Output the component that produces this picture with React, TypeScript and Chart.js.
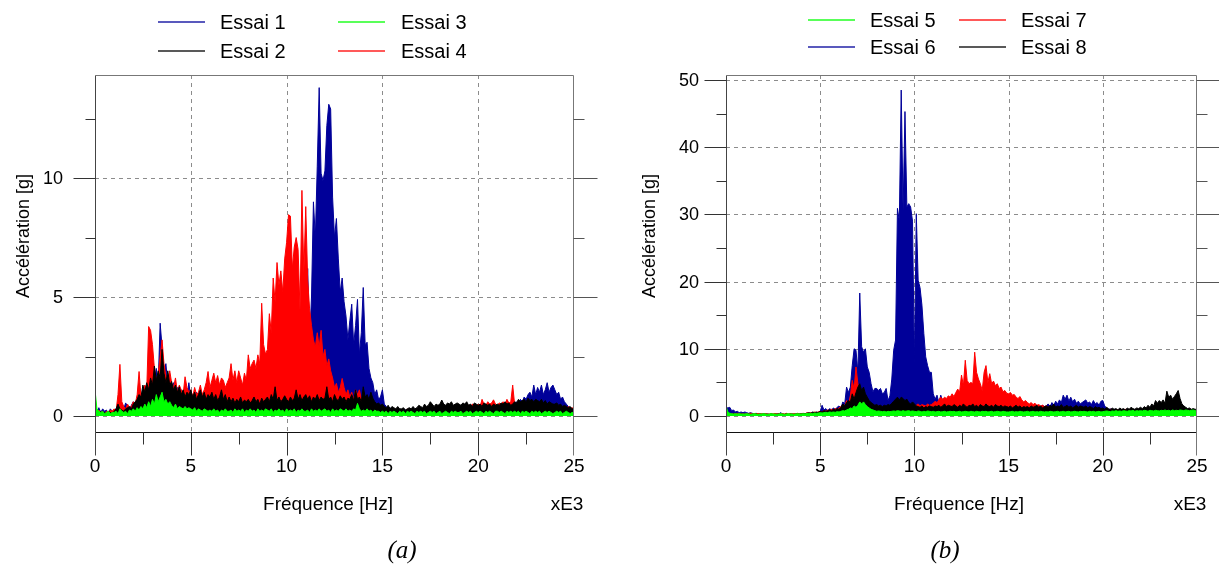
import React, { useEffect, useRef } from "react";
import { Chart, registerables } from "chart.js";

Chart.register(...registerables);

// ---------- axes / ticks ----------
const FREQ_STEP_KHZ = 0.1; // spectrum bin width (kHz)
const X_MAJOR = [0, 5, 10, 15, 20, 25];
const X_MAJOR_LABELS = ["0", "5", "10", "15", "20", "25"];
const X_MINOR = [2.5, 7.5, 12.5, 17.5, 22.5];
const X_GRID = [5, 10, 15, 20];

const Y_MAJOR_A = [0, 5, 10];
const Y_LABELS_A = ["0", "5", "10"];
const Y_MINOR_A = [2.5, 7.5, 12.5];

const Y_MAJOR_B = [0, 10, 20, 30, 40, 50];
const Y_LABELS_B = ["0", "10", "20", "30", "40", "50"];
const Y_MINOR_B = [5, 15, 25, 35, 45];

// ---------- panel (a) ----------
const essai1 = [
  0.3, 0.2, 0.35, 0.15, 0.3, 0.2, 0.25, 0.1, 0.3, 0.2,
  0.25, 0.3, 0.2, 0.35, 0.5, 0.3, 0.55, 0.4, 0.3, 0.45,
  0.6, 0.4, 0.7, 0.5, 0.9, 0.6, 1.2, 0.8, 1.5, 1.0,
  1.6, 1.1, 2.0, 1.4, 3.9, 2.9, 1.8, 2.2, 1.3, 1.6,
  1.0, 1.4, 0.9, 1.2, 0.8, 1.1, 0.7, 1.0, 0.8, 1.4,
  0.7, 0.9, 0.6, 1.0, 0.7, 0.8, 0.5, 0.9, 0.6, 0.8,
  0.5, 0.8, 0.6, 0.9, 0.5, 0.7, 0.6, 0.8, 0.5, 0.7,
  0.6, 0.9, 0.5, 0.8, 0.6, 0.9, 0.7, 1.0, 0.6, 0.8,
  0.7, 1.0, 0.6, 0.9, 0.8, 1.1, 0.7, 1.0, 0.9, 1.2,
  1.0, 1.3, 0.9, 1.6, 1.2, 1.8, 1.1, 1.5, 1.3, 2.0,
  1.5, 2.2, 1.3, 1.8, 1.0, 2.5, 1.6, 3.0, 2.0, 4.0,
  3.2, 6.2, 3.1, 5.0, 9.0, 7.5, 10.5, 13.8, 10.2, 9.9,
  10.3, 12.2, 13.1, 12.9, 9.2, 7.5, 8.3, 6.6, 5.2, 5.8,
  4.8, 4.2, 3.2, 4.0, 4.7, 3.0, 3.8, 4.9, 2.6, 3.5,
  5.4, 3.0, 3.1, 2.0, 1.6, 1.4, 0.9, 1.1, 0.7, 0.8,
  1.1, 0.5, 0.4, 0.3, 0.35, 0.25, 0.3, 0.2, 0.3, 0.25,
  0.2, 0.3, 0.25, 0.2, 0.3, 0.25, 0.35, 0.2, 0.3, 0.25,
  0.3, 0.2, 0.35, 0.25, 0.3, 0.4, 0.3, 0.25, 0.35, 0.3,
  0.3, 0.4, 0.3, 0.35, 0.25, 0.4, 0.3, 0.35, 0.3, 0.4,
  0.35, 0.3, 0.4, 0.3, 0.35, 0.45, 0.3, 0.4, 0.35, 0.3,
  0.4, 0.3, 0.45, 0.35, 0.4, 0.3, 0.45, 0.35, 0.4, 0.5,
  0.4, 0.5, 0.35, 0.45, 0.4, 0.5, 0.45, 0.4, 0.55, 0.5,
  0.6, 0.5, 0.7, 0.6, 0.8, 0.7, 0.9, 1.0, 0.8, 1.3,
  0.9, 1.2, 1.0, 1.3, 0.9, 1.1, 1.4, 1.0, 1.2, 1.3,
  1.1, 0.9, 1.0, 0.7, 0.8, 0.6, 0.5, 0.4, 0.35, 0.3,
  0.3,
];

const essai2 = [
  0.1, 0.15, 0.1, 0.2, 0.1, 0.15, 0.1, 0.2, 0.15, 0.1,
  0.2, 0.3, 0.5, 0.3, 0.25, 0.2, 0.3, 0.35, 0.4, 0.3,
  0.5, 0.6, 0.7, 0.9, 0.8, 1.3, 1.0, 1.4, 1.1, 1.6,
  1.3, 2.1, 1.5, 1.9, 1.6, 2.8, 1.8, 1.4, 1.9, 1.3,
  1.45, 1.1, 1.3, 1.0, 1.23, 0.9, 1.1, 0.8, 1.0, 0.9,
  1.1, 0.8, 1.0, 0.7, 0.9, 1.1, 0.8, 1.0, 0.7, 0.9,
  0.8, 1.0, 0.7, 0.9, 0.65, 0.8, 1.1, 0.7, 0.9, 0.6,
  0.8, 0.6, 0.75, 0.55, 0.7, 0.6, 0.8, 0.55, 0.67, 0.6,
  0.7, 0.55, 0.65, 0.8, 0.6, 0.7, 0.5, 0.75, 0.6, 0.7,
  0.8, 0.6, 0.9, 0.7, 1.23, 0.65, 0.8, 0.6, 0.7, 0.85,
  0.7, 0.6, 0.8, 0.65, 0.75, 1.1, 0.7, 0.9, 0.65, 0.8,
  0.9, 0.7, 0.85, 0.6, 0.8, 0.7, 0.9, 0.65, 0.8, 0.7,
  0.75, 1.23, 0.7, 0.8, 0.6, 0.9, 0.7, 0.65, 0.85, 0.7,
  0.8, 0.6, 0.75, 0.7, 0.9, 0.65, 1.1, 0.7, 0.8, 0.6,
  1.23, 0.8, 0.9, 0.7, 1.0, 0.75, 0.6, 0.5, 0.55, 0.45,
  0.5, 0.4, 0.35, 0.45, 0.3, 0.4, 0.35, 0.3, 0.4, 0.3,
  0.3, 0.35, 0.25, 0.3, 0.35, 0.3, 0.4, 0.3, 0.35, 0.45,
  0.4, 0.35, 0.5, 0.4, 0.45, 0.6, 0.5, 0.4, 0.5, 0.45,
  0.5, 0.67, 0.5, 0.45, 0.55, 0.5, 0.6, 0.45, 0.5, 0.55,
  0.5, 0.45, 0.55, 0.5, 0.6, 0.45, 0.5, 0.4, 0.55, 0.5,
  0.45, 0.5, 0.4, 0.55, 0.5, 0.45, 0.5, 0.4, 0.5, 0.45,
  0.5, 0.45, 0.55, 0.5, 0.6, 0.5, 0.55, 0.45, 0.5, 0.6,
  0.55, 0.7, 0.6, 0.65, 0.7, 0.6, 0.75, 0.65, 0.7, 0.6,
  0.7, 0.65, 0.6, 0.7, 0.55, 0.65, 0.5, 0.6, 0.55, 0.5,
  0.5, 0.55, 0.45, 0.5, 0.4, 0.45, 0.4, 0.35, 0.4, 0.3,
  0.3,
];

const essai3 = [
  1.1, 0.3, 0.2, 0.15, 0.2, 0.1, 0.15, 0.2, 0.1, 0.15,
  0.15, 0.2, 0.1, 0.3, 0.2, 0.15, 0.2, 0.1, 0.25, 0.2,
  0.3, 0.2, 0.35, 0.25, 0.4, 0.3, 0.5, 0.35, 0.6, 0.4,
  0.7, 0.5, 0.9, 0.6, 0.8, 1.0, 0.6, 0.7, 0.5, 0.6,
  0.45, 0.35, 0.5, 0.3, 0.4, 0.35, 0.3, 0.4, 0.3, 0.35,
  0.3, 0.25, 0.35, 0.2, 0.3, 0.25, 0.2, 0.3, 0.25, 0.2,
  0.25, 0.2, 0.3, 0.2, 0.25, 0.15, 0.25, 0.2, 0.3, 0.2,
  0.2, 0.25, 0.15, 0.3, 0.2, 0.25, 0.2, 0.3, 0.15, 0.25,
  0.2, 0.3, 0.2, 0.25, 0.15, 0.3, 0.2, 0.25, 0.2, 0.3,
  0.25, 0.2, 0.3, 0.15, 0.25, 0.2, 0.3, 0.2, 0.25, 0.15,
  0.3, 0.2, 0.25, 0.2, 0.3, 0.15, 0.25, 0.2, 0.3, 0.2,
  0.2, 0.25, 0.15, 0.3, 0.2, 0.25, 0.2, 0.3, 0.2, 0.25,
  0.3, 0.2, 0.25, 0.15, 0.3, 0.2, 0.25, 0.2, 0.3, 0.25,
  0.2, 0.3, 0.2, 0.25, 0.2, 0.3, 0.25, 0.53, 0.3, 0.2,
  0.25, 0.2, 0.3, 0.2, 0.25, 0.15, 0.25, 0.2, 0.2, 0.15,
  0.2, 0.15, 0.2, 0.1, 0.2, 0.15, 0.2, 0.15, 0.1, 0.2,
  0.15, 0.2, 0.1, 0.2, 0.15, 0.2, 0.15, 0.1, 0.2, 0.15,
  0.2, 0.15, 0.2, 0.1, 0.15, 0.2, 0.15, 0.2, 0.1, 0.15,
  0.2, 0.1, 0.15, 0.2, 0.15, 0.1, 0.2, 0.15, 0.2, 0.15,
  0.15, 0.2, 0.1, 0.15, 0.2, 0.15, 0.2, 0.1, 0.15, 0.2,
  0.15, 0.2, 0.15, 0.1, 0.2, 0.15, 0.2, 0.15, 0.1, 0.2,
  0.2, 0.15, 0.2, 0.15, 0.1, 0.2, 0.15, 0.2, 0.15, 0.2,
  0.15, 0.2, 0.1, 0.2, 0.15, 0.2, 0.15, 0.1, 0.2, 0.15,
  0.2, 0.15, 0.2, 0.1, 0.15, 0.2, 0.15, 0.2, 0.15, 0.1,
  0.15, 0.2, 0.15, 0.2, 0.1, 0.15, 0.2, 0.15, 0.1, 0.15,
  0.15,
];

const essai4 = [
  0.2, 0.1, 0.25, 0.15, 0.2, 0.1, 0.2, 0.15, 0.25, 0.2,
  0.3, 0.2, 0.9, 2.17, 0.6, 0.4, 0.3, 0.5, 0.35, 0.4,
  0.6, 0.5, 0.9, 1.87, 0.8, 1.0, 1.3, 1.1, 3.76, 3.6,
  3.0, 2.0, 1.5, 1.8, 2.5, 3.2, 2.2, 1.7, 1.5, 1.9,
  1.4, 1.2, 1.6, 1.0, 1.3, 1.1, 0.9, 1.65, 1.2, 1.0,
  1.1, 0.8, 1.2, 0.9, 1.0, 1.3, 0.9, 1.1, 1.4, 1.87,
  1.2, 1.5, 1.8, 1.4, 1.7, 1.3, 1.6, 1.5, 1.2, 1.4,
  1.6, 2.2, 1.5, 1.9, 1.4, 1.9, 1.6, 1.3, 1.8, 1.5,
  2.57, 2.0, 2.2, 2.35, 2.0, 2.57, 2.2, 4.74, 3.0, 2.6,
  2.8, 4.3, 3.5, 5.8, 4.8, 6.45, 5.5, 6.1, 5.2, 6.6,
  7.3, 8.46, 8.4, 6.2, 7.1, 7.5, 7.0, 4.46, 9.48, 6.0,
  8.8, 5.7, 4.5, 3.8, 3.2, 2.9, 3.5, 2.9, 3.6, 2.5,
  2.8, 2.1, 2.4, 1.9, 1.6, 1.2, 1.37, 1.0, 1.2, 1.58,
  1.2, 0.9, 1.1, 0.8, 1.0, 0.7, 1.1, 0.9, 1.1, 0.7,
  0.8, 0.6, 0.5, 0.7, 0.4, 0.5, 0.3, 0.45, 0.35, 0.3,
  0.3, 0.2, 0.25, 0.3, 0.2, 0.25, 0.2, 0.3, 0.2, 0.25,
  0.2, 0.25, 0.2, 0.3, 0.2, 0.25, 0.3, 0.2, 0.25, 0.2,
  0.25, 0.3, 0.2, 0.35, 0.25, 0.3, 0.2, 0.3, 0.35, 0.25,
  0.3, 0.35, 0.3, 0.25, 0.4, 0.3, 0.35, 0.3, 0.4, 0.35,
  0.4, 0.3, 0.5, 0.4, 0.35, 0.45, 0.4, 0.5, 0.45, 0.4,
  0.5, 0.4, 0.7, 0.5, 0.45, 0.6, 0.5, 0.55, 0.68, 0.5,
  0.45, 0.55, 0.5, 0.6, 0.5, 0.7, 0.55, 0.6, 1.3, 0.5,
  0.55, 0.45, 0.5, 0.6, 0.45, 0.5, 0.4, 0.5, 0.45, 0.4,
  0.45, 0.4, 0.5, 0.35, 0.45, 0.4, 0.5, 0.4, 0.35, 0.45,
  0.4, 0.35, 0.45, 0.3, 0.4, 0.35, 0.3, 0.4, 0.3, 0.35,
  0.3,
];

// ---------- panel (b) ----------
const essai5 = [
  1.5, 0.6, 0.4, 0.35, 0.3, 0.35, 0.3, 0.35, 0.3, 0.3,
  0.3, 0.35, 0.3, 0.25, 0.3, 0.35, 0.3, 0.25, 0.3, 0.3,
  0.35, 0.3, 0.25, 0.3, 0.35, 0.3, 0.3, 0.25, 0.3, 0.35,
  0.3, 0.25, 0.3, 0.35, 0.3, 0.3, 0.25, 0.3, 0.35, 0.3,
  0.3, 0.35, 0.3, 0.4, 0.35, 0.4, 0.35, 0.45, 0.4, 0.45,
  0.5, 0.45, 0.5, 0.55, 0.5, 0.6, 0.55, 0.6, 0.55, 0.65,
  0.6, 0.7, 0.8, 0.75, 0.9, 1.0, 1.2, 1.1, 1.5, 1.3,
  1.6, 2.1, 1.8, 2.1, 1.7, 1.4, 1.2, 1.0, 0.9, 0.8,
  0.7, 0.75, 0.7, 0.65, 0.7, 0.6, 0.7, 0.65, 0.7, 0.75,
  0.7, 0.8, 0.75, 0.7, 0.8, 0.7, 0.75, 0.8, 0.7, 0.75,
  0.7, 0.65, 0.75, 0.7, 0.6, 0.7, 0.65, 0.75, 0.7, 0.65,
  0.7, 0.6, 0.65, 0.7, 0.6, 0.65, 0.7, 0.6, 0.65, 0.7,
  0.65, 0.7, 0.6, 0.65, 0.7, 0.6, 0.65, 0.7, 0.65, 0.6,
  0.7, 0.65, 0.6, 0.7, 0.65, 0.6, 0.7, 0.65, 0.7, 0.6,
  0.65, 0.7, 0.6, 0.65, 0.7, 0.65, 0.6, 0.7, 0.65, 0.6,
  0.6, 0.65, 0.7, 0.6, 0.65, 0.6, 0.7, 0.65, 0.6, 0.65,
  0.7, 0.6, 0.65, 0.7, 0.6, 0.65, 0.6, 0.7, 0.65, 0.6,
  0.65, 0.6, 0.7, 0.65, 0.6, 0.65, 0.7, 0.6, 0.65, 0.7,
  0.6, 0.65, 0.7, 0.6, 0.65, 0.7, 0.65, 0.6, 0.7, 0.65,
  0.7, 0.65, 0.6, 0.7, 0.65, 0.7, 0.6, 0.65, 0.7, 0.6,
  0.65, 0.7, 0.75, 0.7, 0.65, 0.75, 0.7, 0.8, 0.7, 0.75,
  0.7, 0.8, 0.75, 0.7, 0.8, 0.75, 0.85, 0.7, 0.8, 0.75,
  0.8, 0.75, 0.85, 0.8, 0.7, 0.85, 0.8, 0.75, 0.85, 0.8,
  0.75, 0.85, 0.8, 0.9, 0.8, 0.85, 0.75, 0.9, 0.8, 0.85,
  0.8, 0.9, 0.85, 0.8, 0.9, 0.85, 0.8, 0.85, 0.9, 0.8,
  0.8,
];

const essai6 = [
  1.3, 1.2, 1.3, 0.8, 0.9, 0.6, 0.7, 0.5, 0.6, 0.5,
  0.6, 0.5, 0.4, 0.5, 0.4, 0.35, 0.4, 0.3, 0.35, 0.3,
  0.3, 0.35, 0.3, 0.25, 0.3, 0.25, 0.3, 0.35, 0.3, 0.5,
  0.3, 0.25, 0.3, 0.25, 0.3, 0.2, 0.3, 0.25, 0.3, 0.25,
  0.3, 0.25, 0.35, 0.45, 0.3, 0.4, 0.35, 0.5, 0.4, 0.6,
  0.7, 1.6, 0.9, 1.1, 0.8, 1.1, 0.9, 1.2, 1.0, 1.3,
  1.5, 1.2, 2.1, 1.8, 4.3, 3.5, 4.3, 7.5, 10.0, 9.8,
  6.55, 18.3, 10.3, 9.5, 10.0, 7.3, 6.5, 4.8, 3.6, 4.1,
  4.1, 3.8, 4.1, 3.3, 3.5, 4.1, 2.3, 3.0, 5.5, 9.8,
  11.3, 30.9, 29.0, 48.5, 30.6, 45.3, 31.1, 31.6, 31.1, 29.0,
  8.0, 30.1, 20.2, 19.1, 16.5, 12.3, 8.8, 7.5, 6.5, 6.5,
  3.3, 2.5, 3.1, 2.0, 3.1, 2.2, 1.8, 2.0, 1.5, 1.1,
  1.1, 1.3, 1.0, 1.2, 0.9, 1.1, 1.0, 1.2, 0.9, 1.1,
  1.0, 1.2, 0.9, 1.1, 1.0, 1.2, 0.9, 1.0, 1.1, 0.9,
  1.0, 1.2, 0.9, 1.1, 1.0, 0.9, 1.1, 1.0, 0.9, 1.1,
  1.0, 0.9, 1.1, 1.0, 1.2, 0.9, 1.1, 1.0, 1.2, 1.1,
  1.2, 1.0, 1.3, 1.1, 1.4, 1.2, 1.5, 1.3, 1.6, 1.4,
  1.5, 1.8, 1.4, 2.0, 1.6, 2.2, 1.8, 2.4, 2.0, 3.1,
  2.5, 3.1, 2.2, 2.8, 2.1, 2.5, 1.9, 2.2, 1.8, 2.0,
  2.2, 2.4, 1.9, 2.1, 1.7, 2.3, 1.8, 2.0, 1.6, 2.2,
  2.3, 1.5, 1.2, 0.9, 1.1, 0.8, 1.0, 0.9, 0.8, 0.7,
  0.8, 0.7, 0.6, 0.7, 0.6, 0.5, 0.6, 0.5, 0.6, 0.5,
  0.5, 0.6, 0.5, 0.4, 0.5, 0.6, 0.5, 0.4, 0.5, 0.6,
  0.5, 0.4, 0.5, 0.6, 0.5, 0.4, 0.5, 0.5, 0.6, 0.4,
  0.5, 0.4, 0.5, 0.6, 0.5, 0.4, 0.5, 0.4, 0.5, 0.6,
  0.5,
];

const essai7 = [
  0.5, 0.3, 0.4, 0.3, 0.35, 0.3, 0.4, 0.3, 0.35, 0.3,
  0.3, 0.35, 0.3, 0.4, 0.3, 0.35, 0.3, 0.4, 0.3, 0.35,
  0.3, 0.35, 0.3, 0.3, 0.35, 0.3, 0.4, 0.3, 0.35, 0.3,
  0.35, 0.3, 0.4, 0.3, 0.35, 0.3, 0.35, 0.3, 0.4, 0.3,
  0.35, 0.4, 0.3, 0.5, 0.4, 0.5, 0.4, 0.6, 0.5, 0.6,
  0.7, 0.6, 0.8, 0.7, 0.9, 0.8, 1.0, 0.9, 1.1, 1.0,
  1.2, 1.4, 1.6, 1.5, 2.3, 1.8, 3.0, 5.3, 4.0, 7.3,
  4.8, 3.5, 2.6, 2.2, 1.8, 2.0, 1.6, 1.5, 1.3, 1.4,
  1.3, 1.5, 1.2, 1.4, 1.3, 1.2, 1.4, 1.3, 1.5, 1.4,
  1.6, 1.4, 1.7, 1.5, 1.6, 1.4, 1.8, 1.5, 1.6, 1.7,
  1.5, 1.6, 1.8, 1.5, 1.7, 1.6, 1.5, 1.8, 1.6, 1.7,
  1.9, 2.2, 2.0, 2.4, 2.8, 2.5, 2.8, 2.6, 3.0, 2.8,
  3.3, 2.9, 3.5, 4.0, 3.6, 6.1, 4.5, 8.3, 5.3, 4.8,
  5.0, 4.8, 9.5, 6.5, 5.5, 4.8, 3.8, 6.5, 7.5, 5.0,
  6.3, 4.8, 5.2, 4.5, 4.8, 4.1, 4.3, 3.6, 3.8, 3.4,
  3.3, 3.5, 3.1, 3.2, 2.8, 2.6, 2.9, 2.4, 2.1, 2.3,
  2.0, 1.8, 2.0, 1.7, 1.9, 1.6, 1.7, 1.5, 1.6, 1.4,
  1.5, 1.3, 1.4, 1.2, 1.3, 1.1, 1.3, 1.2, 1.1, 1.3,
  1.2, 1.1, 1.3, 1.0, 1.2, 1.1, 1.0, 1.2, 1.1, 1.0,
  1.1, 1.0, 1.2, 0.9, 1.1, 1.0, 0.9, 1.1, 1.0, 0.9,
  1.0, 0.9, 1.1, 0.8, 1.0, 0.9, 0.8, 1.0, 0.9, 0.8,
  0.9, 0.8, 1.0, 0.7, 0.9, 0.8, 0.7, 0.9, 0.8, 0.7,
  0.8, 0.7, 0.9, 0.6, 0.8, 0.7, 0.6, 0.8, 0.7, 0.6,
  0.7, 0.6, 0.8, 0.6, 0.7, 0.6, 0.5, 0.7, 0.6, 0.5,
  0.6, 0.5, 0.7, 0.5, 0.6, 0.5, 0.6, 0.5, 0.6, 0.5,
  0.5,
];

const essai8 = [
  0.3, 0.2, 0.25, 0.2, 0.3, 0.2, 0.25, 0.2, 0.3, 0.2,
  0.25, 0.2, 0.3, 0.2, 0.25, 0.2, 0.3, 0.2, 0.25, 0.2,
  0.3, 0.2, 0.25, 0.2, 0.3, 0.2, 0.25, 0.2, 0.3, 0.2,
  0.25, 0.2, 0.3, 0.2, 0.25, 0.3, 0.2, 0.3, 0.25, 0.3,
  0.3, 0.35, 0.3, 0.4, 0.5, 0.4, 0.6, 0.5, 0.6, 0.5,
  0.7, 0.6, 0.8, 0.7, 0.8, 0.9, 0.8, 1.0, 0.9, 1.1,
  1.0, 1.3, 1.8, 1.5, 2.0, 2.3, 2.1, 3.3, 2.5, 3.5,
  4.3, 4.8, 3.8, 4.3, 3.3, 2.8, 2.3, 2.0, 1.8, 1.6,
  1.7, 1.5, 1.6, 1.4, 1.6, 1.5, 1.7, 1.6, 1.9, 2.2,
  2.5, 2.8, 2.4, 2.8, 2.6, 2.3, 2.5, 2.0, 1.8, 2.1,
  1.8, 1.5, 1.4, 1.3, 1.5, 1.2, 1.4, 1.3, 1.5, 1.4,
  1.3, 1.5, 1.4, 1.6, 1.3, 1.5, 1.8, 1.4, 1.6, 1.5,
  1.4, 1.7, 1.5, 1.3, 1.6, 1.4, 1.8, 1.5, 1.3, 1.6,
  1.5, 1.8, 1.4, 1.6, 1.3, 1.7, 1.5, 1.4, 1.8, 1.5,
  1.4, 1.6, 1.3, 1.7, 1.5, 1.4, 1.6, 1.3, 1.5, 1.4,
  1.3, 1.5, 1.2, 1.4, 1.6, 1.3, 1.5, 1.2, 1.4, 1.3,
  1.4, 1.2, 1.5, 1.3, 1.4, 1.6, 1.3, 1.5, 1.2, 1.4,
  1.5, 1.3, 1.6, 1.4, 1.8, 1.3, 1.5, 1.4, 1.7, 1.3,
  1.4, 1.6, 1.3, 1.5, 1.2, 1.4, 1.6, 1.3, 1.5, 1.4,
  1.3, 1.5, 1.2, 1.4, 1.3, 1.1, 1.4, 1.2, 1.3, 1.1,
  1.2, 1.0, 1.3, 1.1, 0.9, 1.2, 1.0, 1.1, 0.9, 1.2,
  1.0, 1.1, 0.9, 1.2, 1.0, 1.3, 1.1, 1.0, 1.2, 1.1,
  1.3, 1.1, 1.4, 1.2, 1.6, 1.3, 1.8, 1.5, 2.3, 1.9,
  2.3, 2.0, 2.4, 1.9, 3.7, 2.8, 3.1, 2.5, 2.9, 3.3,
  3.8, 2.6, 1.8, 1.5, 1.3, 1.1, 1.2, 1.0, 1.1, 1.0,
  1.0,
];

// ---------- styles ----------
const BLUE = "#000099";
const RED = "#ff0000";
const GREEN = "#00ff00";
const BLACK = "#000000";
const FONT = '"Liberation Sans", Arial, sans-serif';

type Series = { label: string; values: number[]; color: string };

interface PanelSpec {
  series: Series[]; // first entry drawn on top
  yMin: number;
  yMax: number;
  yMajor: number[];
  yLabels: string[];
  yMinor: number[];
  yLabelGap: number;
  yTitleOffset: number;
  width: number;
  padding: { left: number; top: number; right: number; bottom: number };
}

const panelA: PanelSpec = {
  series: [
    { label: "Essai 3", values: essai3, color: GREEN },
    { label: "Essai 2", values: essai2, color: BLACK },
    { label: "Essai 4", values: essai4, color: RED },
    { label: "Essai 1", values: essai1, color: BLUE },
  ],
  yMin: -0.672,
  yMax: 14.33,
  yMajor: Y_MAJOR_A,
  yLabels: Y_LABELS_A,
  yMinor: Y_MINOR_A,
  yLabelGap: 32,
  yTitleOffset: 71,
  width: 610,
  padding: { left: 95, top: 75, right: 36, bottom: 134 },
};

const panelB: PanelSpec = {
  series: [
    { label: "Essai 5", values: essai5, color: GREEN },
    { label: "Essai 8", values: essai8, color: BLACK },
    { label: "Essai 7", values: essai7, color: RED },
    { label: "Essai 6", values: essai6, color: BLUE },
  ],
  yMin: -2.38,
  yMax: 50.74,
  yMajor: Y_MAJOR_B,
  yLabels: Y_LABELS_B,
  yMinor: Y_MINOR_B,
  yLabelGap: 27,
  yTitleOffset: 76,
  width: 609,
  padding: { left: 116, top: 75, right: 22, bottom: 134 },
};

function makeDeco(spec: PanelSpec) {
  return {
    id: "deco",
    beforeDatasetsDraw(chart: any) {
      const { ctx, chartArea: a } = chart;
      const xs = chart.scales.x;
      const ys = chart.scales.y;
      ctx.save();
      ctx.strokeStyle = "#8c8c8c";
      ctx.lineWidth = 1;
      ctx.setLineDash([4, 4]);
      ctx.beginPath();
      for (const v of X_GRID) {
        const px = Math.round(xs.getPixelForValue(v)) + 0.5;
        ctx.moveTo(px, a.top);
        ctx.lineTo(px, a.bottom);
      }
      for (const v of spec.yMajor) {
        const py = Math.round(ys.getPixelForValue(v)) + 0.5;
        ctx.moveTo(a.left, py);
        ctx.lineTo(a.right, py);
      }
      ctx.stroke();
      ctx.restore();
    },
    afterDraw(chart: any) {
      const { ctx, chartArea: a } = chart;
      const xs = chart.scales.x;
      const ys = chart.scales.y;
      const L = Math.round(a.left) + 0.5;
      const R = Math.round(a.right) - 0.5;
      const T = Math.round(a.top) + 0.5;
      const B = Math.round(a.bottom) + 0.5;
      const seg = (x1: number, y1: number, x2: number, y2: number) => {
        ctx.beginPath();
        ctx.moveTo(x1, y1);
        ctx.lineTo(x2, y2);
        ctx.stroke();
      };
      ctx.save();
      ctx.setLineDash([]);
      ctx.lineWidth = 1;
      // frame
      ctx.strokeStyle = "#777777";
      seg(L, T, R, T);
      seg(R, T, R, B);
      ctx.strokeStyle = "#444444";
      seg(L, T, L, B);
      ctx.strokeStyle = "#111111";
      seg(L, B, R, B);
      // x ticks
      for (const v of X_MAJOR) {
        let px = Math.round(xs.getPixelForValue(v)) + 0.5;
        if (v === 25) px = R;
        ctx.strokeStyle = v === 0 ? "#444444" : v === 25 ? "#777777" : "#333333";
        seg(px, B, px, B + 23);
      }
      ctx.strokeStyle = "#333333";
      for (const v of X_MINOR) {
        const px = Math.round(xs.getPixelForValue(v)) + 0.5;
        seg(px, B, px, B + 12);
      }
      // y ticks
      for (const v of spec.yMajor) {
        const py = Math.round(ys.getPixelForValue(v)) + 0.5;
        ctx.strokeStyle = "#333333";
        seg(L - 22, py, L, py);
        ctx.strokeStyle = "#555555";
        seg(R, py, R + 24, py);
      }
      for (const v of spec.yMinor) {
        const py = Math.round(ys.getPixelForValue(v)) + 0.5;
        ctx.strokeStyle = "#333333";
        seg(L - 10, py, L, py);
        ctx.strokeStyle = "#555555";
        seg(R, py, R + 11, py);
      }
      // y labels
      ctx.fillStyle = "#000";
      ctx.font = `18px ${FONT}`;
      ctx.textAlign = "right";
      ctx.textBaseline = "middle";
      spec.yMajor.forEach((v, i) => {
        const py = ys.getPixelForValue(v);
        ctx.fillText(spec.yLabels[i], a.left - spec.yLabelGap, py + 1);
      });
      // x labels
      ctx.textAlign = "center";
      ctx.font = `19px ${FONT}`;
      X_MAJOR.forEach((v, i) => {
        const px = xs.getPixelForValue(v);
        ctx.fillText(X_MAJOR_LABELS[i], px, a.bottom + 35);
      });
      // x title and multiplier
      ctx.fillText("Fréquence [Hz]", a.left + 233, a.bottom + 73);
      ctx.fillText("xE3", a.right - 7, a.bottom + 73);
      // y title
      ctx.save();
      ctx.translate(a.left - spec.yTitleOffset, 236);
      ctx.rotate(-Math.PI / 2);
      ctx.font = `18px ${FONT}`;
      ctx.fillText("Accélération [g]", 0, 0);
      ctx.restore();
      ctx.restore();
    },
  };
}

function Panel({ spec, left }: { spec: PanelSpec; left: number }) {
  const ref = useRef<HTMLCanvasElement | null>(null);
  useEffect(() => {
    const canvas = ref.current;
    if (!canvas) return;
    const chart = new Chart(canvas, {
      type: "line",
      data: {
        datasets: spec.series.map((s, idx) => ({
          label: s.label,
          data: s.values.map((v, i) => ({ x: i * FREQ_STEP_KHZ, y: v })),
          borderColor: s.color,
          backgroundColor: s.color,
          borderWidth: 1,
          pointRadius: 0,
          tension: 0,
          fill: "origin",
          order: idx,
        })),
      },
      options: {
        animation: false,
        responsive: false,
        events: [],
        layout: { padding: spec.padding },
        scales: {
          x: { type: "linear", min: 0, max: 25, display: false },
          y: { type: "linear", min: spec.yMin, max: spec.yMax, display: false },
        },
        plugins: {
          legend: { display: false },
          tooltip: { enabled: false },
        },
      },
      plugins: [makeDeco(spec)],
    } as any);
    return () => chart.destroy();
  }, [spec]);
  return (
    <canvas
      ref={ref}
      width={spec.width}
      height={566}
      style={{ position: "absolute", left, top: 0, width: spec.width, height: 566 }}
    />
  );
}

type LegendItem = { label: string; color: string; lineX: number; textX: number; y: number };

const legendItems: LegendItem[] = [
  { label: "Essai 1", color: BLUE, lineX: 158, textX: 220, y: 22 },
  { label: "Essai 2", color: BLACK, lineX: 158, textX: 220, y: 51 },
  { label: "Essai 3", color: GREEN, lineX: 338, textX: 401, y: 22 },
  { label: "Essai 4", color: RED, lineX: 338, textX: 401, y: 51 },
  { label: "Essai 5", color: GREEN, lineX: 808, textX: 870, y: 20 },
  { label: "Essai 6", color: BLUE, lineX: 808, textX: 870, y: 47 },
  { label: "Essai 7", color: RED, lineX: 959, textX: 1021, y: 20 },
  { label: "Essai 8", color: BLACK, lineX: 959, textX: 1021, y: 47 },
];

export default function App() {
  return (
    <div
      style={{
        position: "absolute",
        left: 0,
        top: 0,
        width: 1219,
        height: 566,
        background: "#fff",
        overflow: "hidden",
      }}
    >
      <Panel spec={panelA} left={0} />
      <Panel spec={panelB} left={610} />
      {legendItems.map((it) => (
        <React.Fragment key={it.label}>
          <div
            style={{
              position: "absolute",
              left: it.lineX,
              top: it.y - 1,
              width: 47,
              height: 2,
              background: it.color,
              opacity: 0.65,
            }}
          />
          <div
            style={{
              position: "absolute",
              left: it.textX,
              top: it.y - 12,
              height: 24,
              lineHeight: "24px",
              fontFamily: FONT,
              fontSize: 20,
              color: "#000",
              whiteSpace: "nowrap",
            }}
          >
            {it.label}
          </div>
        </React.Fragment>
      ))}
      {[
        { t: "(a)", x: 402 },
        { t: "(b)", x: 945 },
      ].map((c) => (
        <div
          key={c.t}
          style={{
            position: "absolute",
            left: c.x - 40,
            width: 80,
            top: 535,
            height: 30,
            lineHeight: "30px",
            textAlign: "center",
            fontFamily: '"Liberation Serif", "Times New Roman", serif',
            fontStyle: "italic",
            fontSize: 25,
            color: "#000",
          }}
        >
          {c.t}
        </div>
      ))}
    </div>
  );
}
